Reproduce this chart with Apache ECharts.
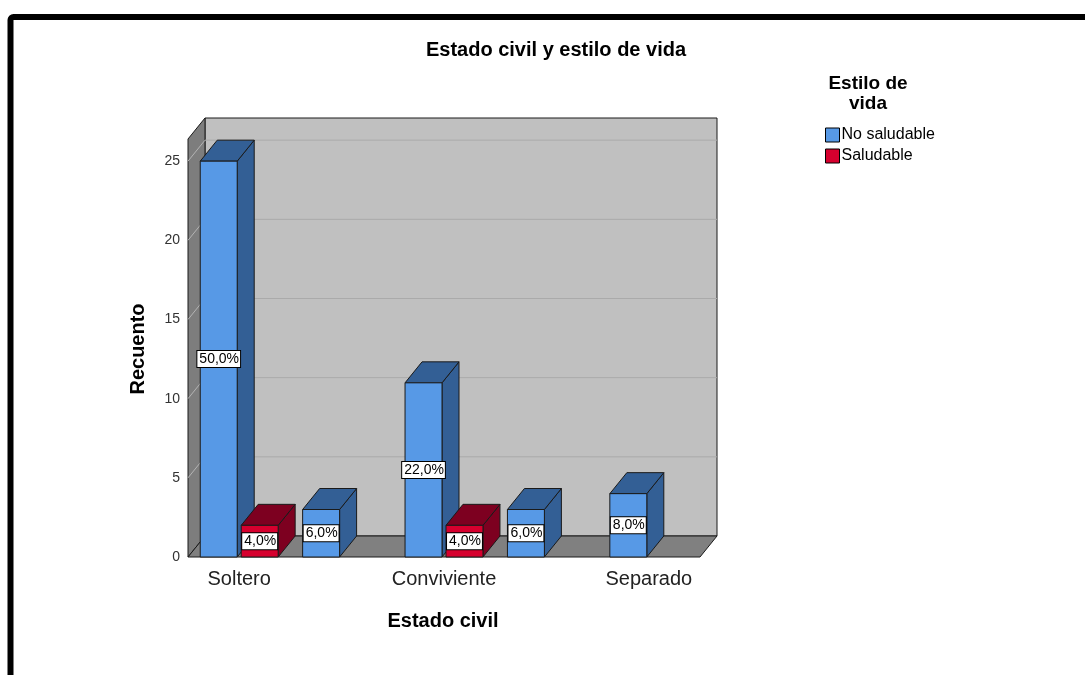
<!DOCTYPE html>
<html>
<head>
<meta charset="utf-8">
<script src="https://cdn.jsdelivr.net/npm/echarts@6/dist/echarts.min.js"></script>
<style>
  html, body { margin: 0; padding: 0; background: #fff; }
  #chart { width: 1085px; height: 675px; }
</style>
</head>
<body>
<div id="chart"></div>
<script>
// Estado civil (x) by Estilo de vida (series), counts
const categories = ['Soltero', 'Casado', 'Conviviente', 'Viudo', 'Separado'];
const noSaludable = [25, 3, 11, 3, 4];
const saludable = [2, 0, 2, 0, 0];
const yTicks = [0, 5, 10, 15, 20, 25];
const yMax = 26.4;

const total = noSaludable.concat(saludable).reduce((a, b) => a + b, 0);

// depth offset of the pseudo-3D box
const DX = 17, DY = -21;
const FONT = '"Liberation Sans", Arial, sans-serif';

function pct(v) {
  return (v / total * 100).toFixed(1).replace('.', ',') + '%';
}

function makeBar(side, frontColor, darkColor) {
  return function (params, api) {
    const ci = api.value(0), v = api.value(1);
    if (!v) return null;
    const top = api.coord([ci, v]);
    const base = api.coord([ci, 0]);
    const bw = api.size([1, 0])[0];
    const w = bw * 0.361, gap = bw * 0.039;
    const x0 = side < 0 ? top[0] - gap / 2 - w : top[0] + gap / 2;
    const x1 = x0 + w;
    const yT = top[1], yB = base[1];
    const stroke = { stroke: '#1a1a1a', lineWidth: 1 };
    return {
      type: 'group',
      children: [
        { type: 'polygon', shape: { points: [[x1, yT], [x1 + DX, yT + DY], [x1 + DX, yB + DY], [x1, yB]] },
          style: Object.assign({ fill: darkColor }, stroke) },
        { type: 'polygon', shape: { points: [[x0, yT], [x1, yT], [x1 + DX, yT + DY], [x0 + DX, yT + DY]] },
          style: Object.assign({ fill: darkColor }, stroke) },
        { type: 'rect', shape: { x: x0, y: yT, width: w, height: yB - yT },
          style: Object.assign({ fill: frontColor }, stroke) },
        { type: 'text', z2: 10,
          style: {
            x: (x0 + x1) / 2, y: (yT + yB) / 2,
            text: pct(v), align: 'center', verticalAlign: 'middle',
            font: '14px ' + FONT, fill: '#000', lineHeight: 14,
            backgroundColor: '#fff', borderColor: '#000', borderWidth: 1,
            padding: [1, 1, 1, 2]
          } }
      ]
    };
  };
}

function renderWalls(params, api) {
  const bw = api.size([1, 0])[0];
  const xL = api.coord([0, 0])[0] - bw / 2;
  const xR = api.coord([categories.length - 1, 0])[0] + bw / 2;
  const y0 = api.coord([0, 0])[1];
  const yT = api.coord([0, yMax])[1];
  const edge = { stroke: '#1a1a1a', lineWidth: 1 };
  const children = [
    // back wall
    { type: 'rect', shape: { x: xL + DX, y: yT + DY, width: xR - xL, height: y0 - yT },
      style: Object.assign({ fill: '#c0c0c0' }, edge) },
    // left wall
    { type: 'polygon', shape: { points: [[xL, y0], [xL + DX, y0 + DY], [xL + DX, yT + DY], [xL, yT]] },
      style: Object.assign({ fill: '#7d7d7d' }, edge) },
    // floor
    { type: 'polygon', shape: { points: [[xL, y0], [xR, y0], [xR + DX, y0 + DY], [xL + DX, y0 + DY]] },
      style: Object.assign({ fill: '#808080' }, edge) }
  ];
  yTicks.forEach(function (t) {
    if (t === 0) return;
    const y = api.coord([0, t])[1];
    children.push({ type: 'line', shape: { x1: xL + DX, y1: y + DY, x2: xR + DX, y2: y + DY },
      style: { stroke: '#aaaaaa', lineWidth: 1 } });
    children.push({ type: 'line', shape: { x1: xL, y1: y, x2: xL + DX, y2: y + DY },
      style: { stroke: '#b4b4b4', lineWidth: 1 } });
  });
  return { type: 'group', children: children };
}

const chart = echarts.init(document.getElementById('chart'), null, { renderer: 'canvas' });

chart.setOption({
  animation: false,
  backgroundColor: '#fff',
  title: {
    text: 'Estado civil y estilo de vida',
    left: 551, top: 35, textAlign: 'center',
    textStyle: { fontFamily: FONT, fontSize: 20, fontWeight: 'bold', color: '#000' }
  },
  legend: {
    orient: 'vertical', left: 820, top: 122,
    itemWidth: 14, itemHeight: 14, itemGap: 5,
    icon: 'rect',
    itemStyle: { borderColor: '#000', borderWidth: 1 },
    textStyle: { fontFamily: FONT, fontSize: 16, color: '#000', padding: [0, 0, 0, -3] },
    data: ['No saludable', 'Saludable']
  },
  grid: { left: 188, right: 385, top: 139, bottom: 118, containLabel: false },
  xAxis: {
    type: 'category', data: categories,
    axisLine: { show: false }, axisTick: { show: false },
    axisLabel: { interval: 1, margin: 12, fontFamily: FONT, fontSize: 20, color: '#222' }
  },
  yAxis: {
    type: 'value', min: 0, max: yMax, interval: 5,
    axisLine: { show: false }, axisTick: { show: false }, splitLine: { show: false },
    axisLabel: { margin: 8, fontFamily: FONT, fontSize: 14, color: '#333', showMaxLabel: false }
  },
  graphic: [
    { type: 'rect', shape: { x: 10.5, y: 17, width: 1100, height: 700, r: 3 },
      style: { fill: 'none', stroke: '#000', lineWidth: 6 }, z: 100 },
    { type: 'text', rotation: Math.PI / 2, x: 138, y: 349,
      style: { text: 'Recuento', font: 'bold 20px ' + FONT, fill: '#000', align: 'center', verticalAlign: 'middle' } },
    { type: 'text', x: 443, y: 621,
      style: { text: 'Estado civil', font: 'bold 20px ' + FONT, fill: '#000', align: 'center', verticalAlign: 'middle' } },
    { type: 'text', x: 868, y: 94,
      style: { text: 'Estilo de\nvida', font: 'bold 19px ' + FONT, lineHeight: 20, fill: '#000', align: 'center', verticalAlign: 'middle' } }
  ],
  series: [
    {
      type: 'custom', name: 'walls', z: 1, clip: false, silent: true,
      renderItem: renderWalls, data: [[0, 0]]
    },
    {
      type: 'custom', name: 'No saludable', z: 2, clip: false,
      itemStyle: { color: '#5799e6' },
      renderItem: makeBar(-1, '#5799e6', '#335f95'),
      data: categories.map((c, i) => [i, noSaludable[i]])
    },
    {
      type: 'custom', name: 'Saludable', z: 3, clip: false,
      itemStyle: { color: '#d6002e' },
      renderItem: makeBar(1, '#d6002e', '#7d0020'),
      data: categories.map((c, i) => [i, saludable[i]])
    }
  ]
});
</script>
</body>
</html>
